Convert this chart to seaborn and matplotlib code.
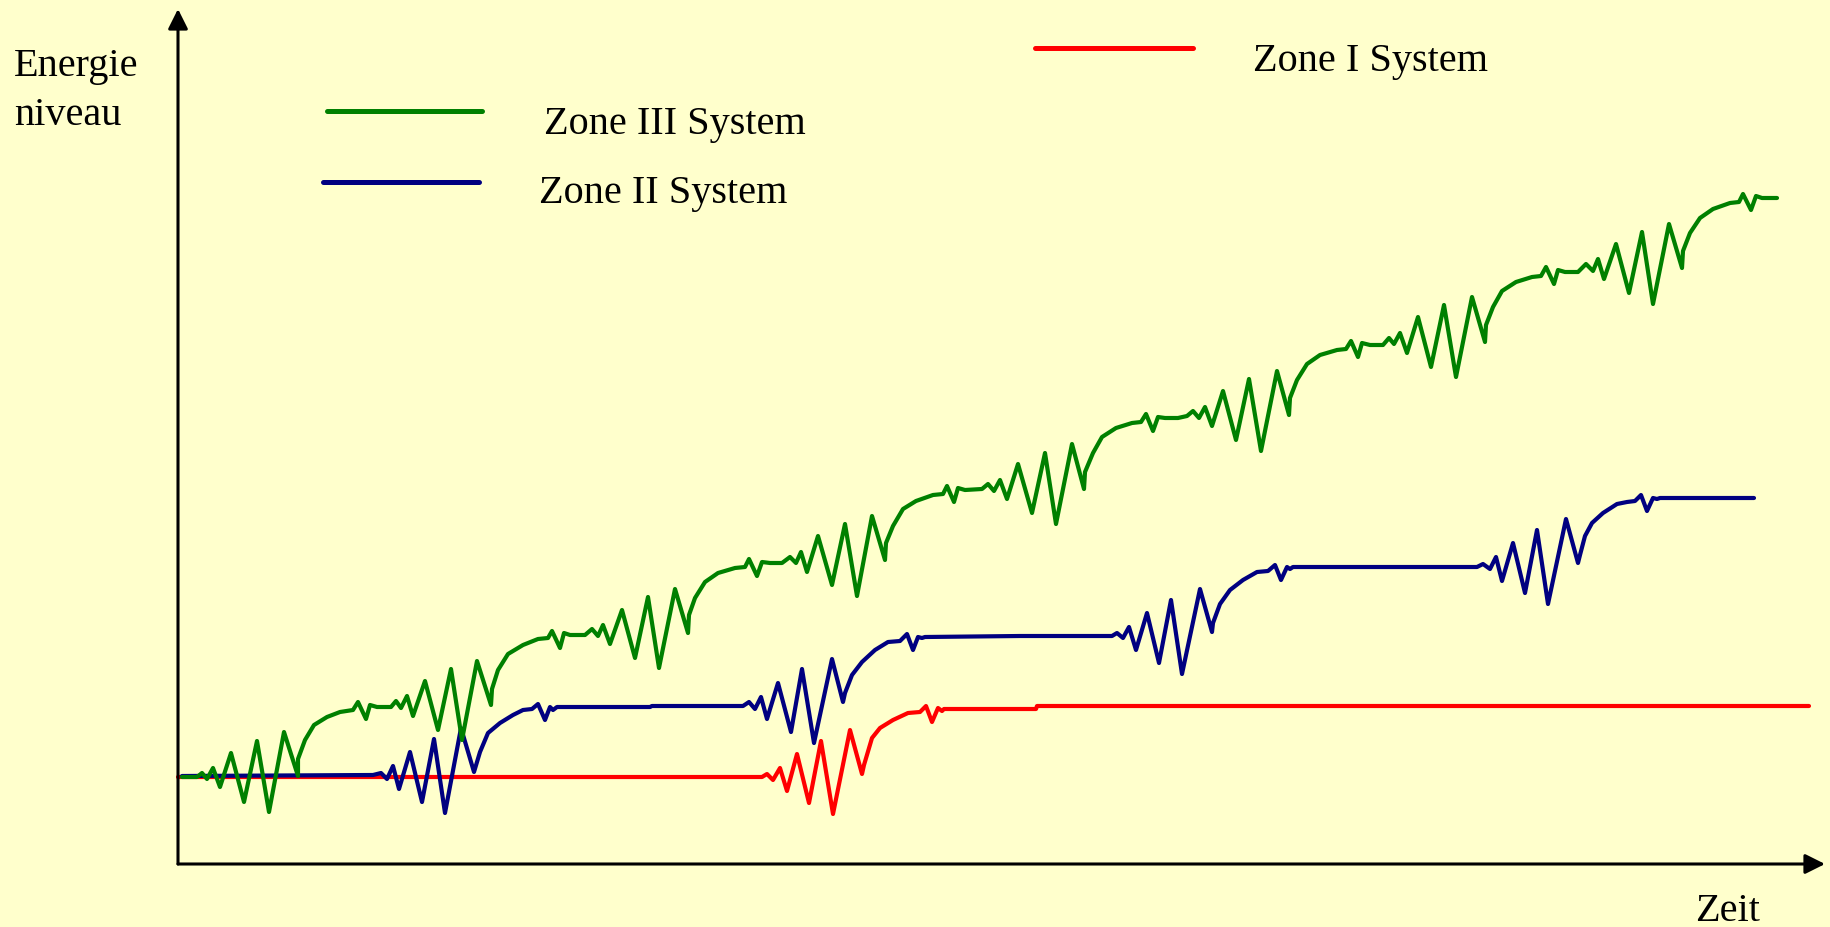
import matplotlib
matplotlib.use("Agg")
import matplotlib.pyplot as plt
import seaborn as sns
import pandas as pd

# ---- data (time, energy level) ----
zone3_t = [4, 19, 24, 29, 35, 42, 53, 66, 79, 91, 106, 120, 120, 127, 136, 149, 162, 175, 180, 188, 192, 199,
           213, 218, 223, 229, 235, 247, 260, 273, 284, 299, 313, 314, 320, 330, 345, 360, 370, 374, 382, 386, 392,
           407, 414, 420, 425, 432, 444, 457, 470, 481, 497, 510, 511, 517, 527, 540, 557, 567, 571, 579, 584, 592,
           604, 612, 618, 623, 629, 640, 654, 667, 679, 694, 707, 708, 715, 725, 738, 755, 765, 769, 776, 780, 787,
           804, 810, 816, 822, 829, 840, 854, 867, 878, 894, 906, 907, 915, 924, 938, 954, 963, 968, 975, 980, 987,
           1000, 1009, 1015, 1021, 1027, 1034, 1045, 1058, 1071, 1083, 1099, 1111, 1112, 1119, 1129, 1142, 1159,
           1168, 1173, 1180, 1184, 1192, 1205, 1211, 1216, 1222, 1229, 1240, 1253, 1266, 1278, 1294, 1307, 1308,
           1315, 1324, 1338, 1354, 1363, 1368, 1376, 1380, 1387, 1400, 1408, 1415, 1420, 1426, 1438, 1451, 1464,
           1475, 1491, 1504, 1505, 1512, 1522, 1535, 1552, 1561, 1565, 1573, 1578, 1584, 1599]
zone3_e = [87, 87, 91, 85, 96, 77, 111, 62, 123, 52, 132, 88, 105, 124, 139, 147, 152, 154, 162, 145, 159, 157,
           157, 163, 156, 168, 148, 183, 134, 195, 124, 203, 159, 175, 194, 210, 219, 225, 226, 233, 216, 231, 229,
           229, 235, 228, 239, 220, 254, 206, 267, 196, 275, 231, 249, 266, 282, 291, 296, 297, 305, 288, 302, 301,
           301, 307, 301, 312, 292, 328, 279, 340, 268, 348, 304, 321, 338, 355, 363, 369, 370, 378, 362, 376, 374,
           375, 380, 373, 384, 365, 400, 351, 411, 340, 420, 375, 392, 411, 427, 436, 441, 442, 450, 433, 447, 446,
           446, 448, 453, 446, 457, 438, 473, 424, 485, 413, 493, 449, 466, 484, 500, 509, 514,
           515, 523, 507, 521, 519, 519, 526, 520, 531, 511, 547, 497, 559, 487, 567, 522, 539,
           557, 573, 582, 587, 588, 597, 580, 594, 592, 592, 600, 593, 605, 585, 620, 571, 632,
           560, 640, 596, 613, 631, 646, 655, 661, 662, 670, 654, 668, 666, 666]

zone2_t = [4, 195, 203, 209, 215, 221, 232, 244, 256, 267, 283, 296, 302, 310, 322, 335, 345, 354, 360, 367, 372,
           375, 379, 472, 474, 565, 571, 577, 583, 589, 600, 613, 624, 636, 654, 665, 667, 674, 684, 697, 710, 722,
           729, 735, 740, 744, 747, 842, 934, 939, 945, 951, 958, 969, 981, 993, 1004, 1022, 1034, 1035, 1042, 1052,
           1065, 1079, 1090, 1097, 1103, 1109, 1112, 1115, 1209, 1299, 1305, 1312, 1318, 1324, 1335, 1347, 1359,
           1370, 1388, 1400, 1402, 1407, 1414, 1425, 1439, 1449, 1457, 1463, 1469, 1475, 1479, 1482, 1576]
zone2_e = [88, 89, 91, 85, 98, 75, 112, 62, 125, 51, 136, 92, 112, 131, 141, 149, 154, 155, 160, 144, 157,
           154, 157, 157, 158, 158, 162, 155, 167, 145, 181, 132, 195, 121, 205, 162, 171, 189, 202, 214, 222, 223,
           230, 214, 227, 226, 227, 228, 228, 231, 226, 237, 214, 251, 201, 264, 190, 275, 232, 241, 260, 274,
           284, 292, 293, 299, 284, 297, 295, 297, 297, 297, 300, 295, 307, 283, 321, 271, 334,
           260, 345, 301, 309, 328, 341, 351, 360, 362, 363, 369, 353, 366, 365, 366, 366]

zone1_t = [0, 584, 589, 595, 602, 609, 619, 631, 643, 655, 672, 684, 686, 694, 702, 715, 730, 742, 748, 754, 760,
           764, 766, 858, 859, 1631]
zone1_e = [87, 87, 90, 84, 96, 73, 110, 61, 123, 50, 134, 90, 99, 126, 136, 144, 151, 152, 158, 142, 156,
           153, 155, 155, 158, 158]

series_names = ["Zone I System", "Zone II System", "Zone III System"]
series_colors = ["#FF0000", "#000080", "#008000"]

df = pd.concat([
    pd.DataFrame({"Zeit": zone1_t, "Energie": zone1_e, "System": series_names[0]}),
    pd.DataFrame({"Zeit": zone2_t, "Energie": zone2_e, "System": series_names[1]}),
    pd.DataFrame({"Zeit": zone3_t, "Energie": zone3_e, "System": series_names[2]}),
], ignore_index=True)

sns.set_style("white")
plt.rcParams["font.family"] = ["Liberation Serif", "DejaVu Serif"]
plt.rcParams["text.color"] = "black"

BG = "#FFFFCC"
fig = plt.figure(figsize=(18.3, 9.27), dpi=100, facecolor=BG)
ax = fig.add_axes([0, 0, 1, 1])
ax.set_facecolor(BG)

sns.lineplot(data=df, x="Zeit", y="Energie", hue="System", hue_order=series_names,
             palette=dict(zip(series_names, series_colors)), sort=False, estimator=None,
             linewidth=3.0, legend=False, ax=ax)

ax.set_xlim(-178, 1652)
ax.set_ylim(-63, 864)
ax.axis("off")

# axes with arrows
arrow_kw = dict(arrowstyle="-|>,head_length=0.6,head_width=0.3", color="black", lw=2.2,
                shrinkA=0, shrinkB=0, mutation_scale=20)
ax.annotate("", xy=(1647, 0), xytext=(0, 0), arrowprops=arrow_kw)
ax.annotate("", xy=(0, 855), xytext=(0, 0), arrowprops=arrow_kw)

fs = 29
txt_kw = dict(fontsize=fs, ha="left", va="baseline", color="black")
ax.text(-164, 788, "Energie", **txt_kw)
ax.text(-164, 739, "niveau", **txt_kw)
ax.text(1517, -57, "Zeit", **txt_kw)

# manual legend
leg_lines = [((857, 1015), 816), ((145, 301), 682), ((149, 304), 753)]
leg_text = [(1075, 793), (361, 661), (366, 730)]
for name, col, (xs, y), (tx, ty) in zip(series_names, series_colors, leg_lines, leg_text):
    ax.plot(list(xs), [y, y], color=col, lw=3.6, solid_capstyle="round")
    ax.text(tx, ty, name, **txt_kw)

fig.savefig("out.png", dpi=100, facecolor=BG)
